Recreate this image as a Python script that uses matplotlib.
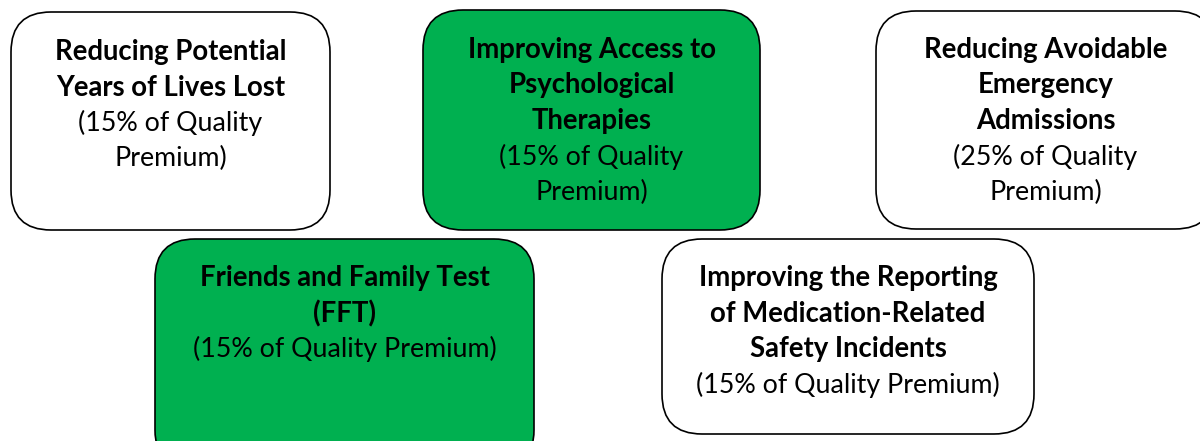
import matplotlib.pyplot as plt
from matplotlib.patches import FancyBboxPatch

# Quality Premium indicators
titles = [
    ['Reducing Potential', 'Years of Lives Lost'],
    ['Improving Access to', 'Psychological', 'Therapies'],
    ['Reducing Avoidable', 'Emergency', 'Admissions'],
    ['Friends and Family Test', '(FFT)'],
    ['Improving the Reporting', 'of Medication-Related', 'Safety Incidents'],
]
shares = [15, 15, 25, 15, 15]
notes = [
    ['(15% of Quality', 'Premium)'],
    ['(15% of Quality', 'Premium)'],
    ['(25% of Quality', 'Premium)'],
    ['(15% of Quality Premium)'],
    ['(15% of Quality Premium)'],
]
highlighted = [False, True, False, True, False]

# layout in pixels: left, top, right, bottom
boxes = [
    (11, 12, 330, 230),
    (423, 10, 760, 230),
    (876, 11, 1215, 229),
    (155, 239, 534, 470),
    (662, 239, 1034, 434),
]
first_line = [52, 50, 50, 278, 278]
line_gap = 35.5
green = '#00B050'

plt.rcParams['font.family'] = ['Lato', 'DejaVu Sans']

fig = plt.figure(figsize=(12, 4.41), dpi=100)
ax = fig.add_axes([0, 0, 1, 1])
ax.set_xlim(0, 1200)
ax.set_ylim(441, 0)
ax.axis('off')

for i, (l, t, r, b) in enumerate(boxes):
    face = green if highlighted[i] else 'white'
    ax.add_patch(FancyBboxPatch((l, t), r - l, b - t,
                                boxstyle='round,pad=0,rounding_size=40',
                                facecolor=face, edgecolor='black', linewidth=1.2))
    cx = (l + r) / 2
    y = first_line[i]
    for line in titles[i]:
        ax.text(cx, y, line, ha='center', va='center', fontsize=19.8, fontweight='bold', color='black')
        y += line_gap
    for line in notes[i]:
        ax.text(cx, y, line, ha='center', va='center', fontsize=19.3, color='black')
        y += line_gap

fig.savefig('out.png', dpi=100)
